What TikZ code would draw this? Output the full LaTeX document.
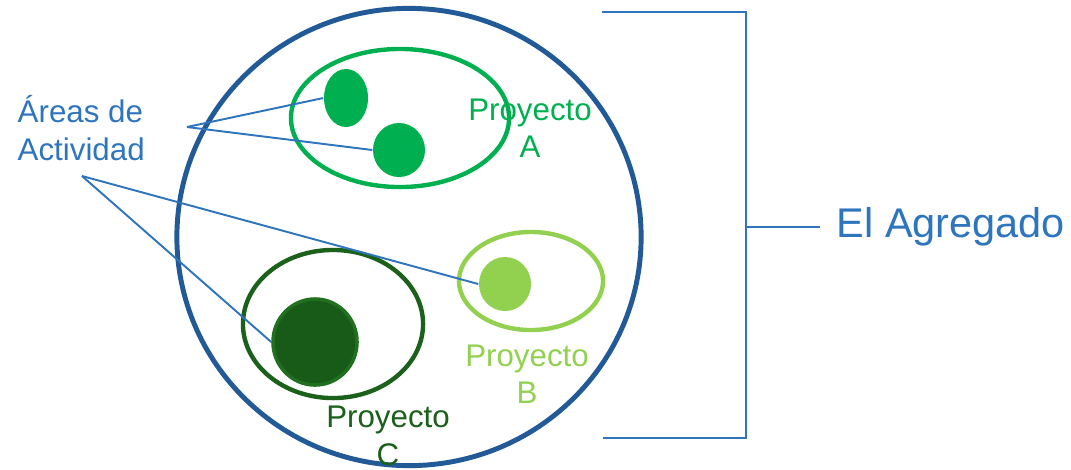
\documentclass[tikz,border=0pt]{standalone}
\usepackage{fontspec}
\setmainfont{Liberation Sans}
\usepackage{tikz}
\usetikzlibrary{shapes,arrows,positioning,fit,calc}

\definecolor{aggblue}{RGB}{33,90,150}
\definecolor{textblue}{RGB}{46,117,190}
\definecolor{projA}{RGB}{0,176,80}
\definecolor{projB}{RGB}{146,208,80}
\definecolor{projC}{RGB}{27,96,27}
\definecolor{projCfill}{RGB}{24,90,24}
\definecolor{projCedge}{RGB}{32,112,32}

\begin{document}
\begin{tikzpicture}[
        x=0.01cm, y=-0.01cm,
        proj/.style={ellipse, draw, line width=1.25pt, inner sep=0pt},
        area/.style={ellipse, inner sep=0pt},
        txt/.style={align=center, font=\fontsize{8.9}{10.6}\selectfont, inner sep=0pt},
        link/.style={draw=textblue, line width=0.55pt}
    ]
        \useasboundingbox (0,0) rectangle (1071,469);

        % Nodes
        \node[proj, draw=aggblue, line width=1.4pt, minimum width=4.64cm, minimum height=4.57cm] (agregado) at (409,237) {};
        \node[proj, draw=projA, minimum width=2.18cm, minimum height=1.38cm] (projA) at (400,118) {};
        \node[proj, draw=projB, minimum width=1.44cm, minimum height=0.98cm] (projB) at (531,281) {};
        \node[proj, draw=projC, minimum width=1.80cm, minimum height=1.48cm] (projC) at (333,324) {};

        \node[area, fill=projA, minimum width=0.44cm, minimum height=0.58cm] (areaA1) at (346,98) {};
        \node[area, fill=projA, minimum width=0.52cm, minimum height=0.54cm] (areaA2) at (399,150) {};
        \node[area, fill=projB, minimum width=0.52cm, minimum height=0.54cm] (areaB) at (505,284) {};
        \node[area, fill=projCfill, draw=projCedge, line width=1pt, minimum width=0.84cm, minimum height=0.86cm] (areaC) at (315,342) {};

        \node[txt, text=projA] (textA) at (530,128) {Proyecto\\A};
        \node[txt, text=projB] (textB) at (527,374) {Proyecto\\B};
        \node[txt, text=projC] (textC) at (388,436) {Proyecto\\C};
        \node[txt, text=textblue, align=left, anchor=west] (areas) at (17,128) {Áreas de\\Actividad};
        \node[text=textblue, font=\fontsize{11.8}{14}\selectfont, inner ysep=0pt, inner xsep=0.16cm, anchor=west] (agrtext) at (820,227) {El Agregado};

        \coordinate (brTL) at (602,12);
        \coordinate (brTR) at (746,12);
        \coordinate (brBR) at (746,438);
        \coordinate (brBL) at (603,438);
        \coordinate (brMid) at (746,227);
        \coordinate (ptrA) at (187,127);
        \coordinate (ptrB) at (82,176);

        % Arrows
        \draw[link, line width=0.6pt] (brTL) -- (brTR) -- (brBR) -- (brBL);
        \draw[link, line width=0.6pt] (brMid) -- (agrtext);
        \draw[link] (ptrA) -- (areaA1.west);
        \draw[link] (ptrA) -- (areaA2.west);
        \draw[link] (ptrB) -- (areaB.west);
        \draw[link] (ptrB) -- (areaC.west);
    \end{tikzpicture}
\end{document}
